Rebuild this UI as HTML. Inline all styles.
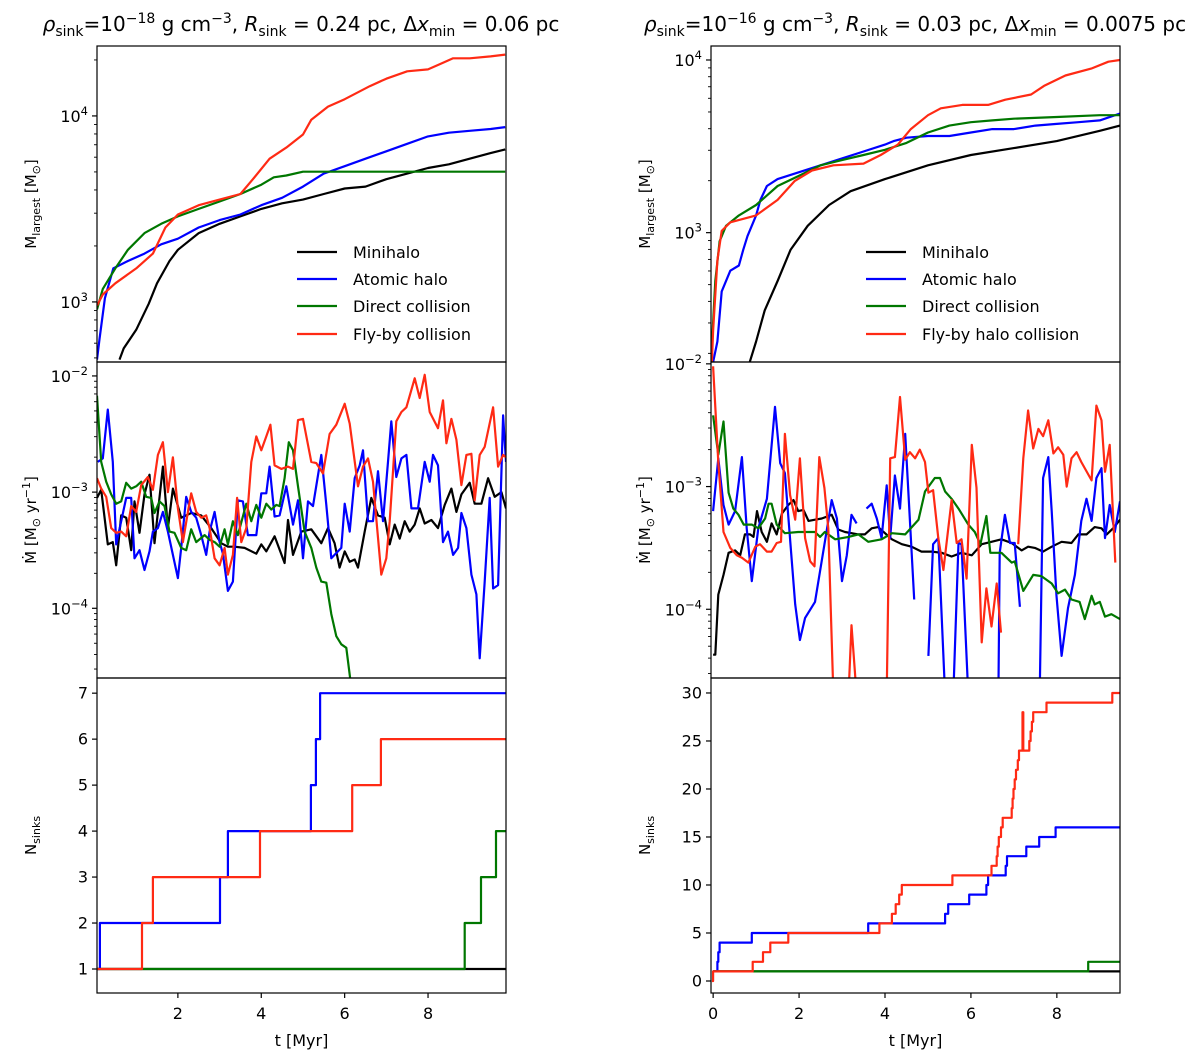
<!DOCTYPE html>
<html><head><meta charset="utf-8">
<style>
html,body{margin:0;padding:0;background:#fff;}
svg{display:block;font-family:"DejaVu Sans","Liberation Sans",sans-serif;}
</style></head>
<body>
<svg id="fig" xmlns="http://www.w3.org/2000/svg" width="1200" height="1062" viewBox="0 0 1200 1062"></svg>
<script>
// ---------------- DATA ----------------
const tMassBlackL=[0.6,0.7,1.0,1.3,1.5,1.8,2.0,2.5,3.0,3.5,4.0,4.5,5.0,5.5,6.0,6.5,7.0,7.5,8.0,8.5,9.0,9.5,9.85];
const logMassBlackL=[2.69,2.75,2.85,2.99,3.10,3.22,3.28,3.37,3.42,3.46,3.50,3.53,3.55,3.58,3.61,3.62,3.66,3.69,3.72,3.74,3.77,3.80,3.82];
const tMassBlueL=[0.06,0.12,0.25,0.45,0.8,1.2,1.6,2.0,2.5,3.0,3.5,4.0,4.5,5.0,5.5,6.0,6.5,7.0,7.5,8.0,8.5,9.0,9.5,9.85];
const logMassBlueL=[2.69,2.80,3.02,3.18,3.22,3.26,3.31,3.34,3.40,3.44,3.47,3.52,3.56,3.62,3.69,3.73,3.77,3.81,3.85,3.89,3.91,3.92,3.93,3.94];
const tMassGreenL=[0.06,0.2,0.5,0.8,1.2,1.6,2.0,2.5,3.0,3.5,4.0,4.3,4.6,5.0,6.0,9.85];
const logMassGreenL=[2.96,3.07,3.18,3.28,3.37,3.42,3.46,3.50,3.54,3.58,3.63,3.67,3.68,3.70,3.70,3.70];
const tMassRedL=[0.06,0.2,0.5,1.0,1.4,1.7,2.0,2.5,3.0,3.5,3.8,4.2,4.6,5.0,5.2,5.6,6.0,6.6,7.0,7.5,8.0,8.3,8.6,9.0,9.5,9.85];
const logMassRedL=[2.98,3.04,3.10,3.18,3.26,3.40,3.47,3.52,3.55,3.58,3.66,3.77,3.83,3.90,3.98,4.05,4.09,4.16,4.20,4.24,4.25,4.28,4.31,4.31,4.32,4.33];

const tMassBlackR=[0.85,1.0,1.2,1.5,1.8,2.2,2.7,3.2,4.0,5.0,6.0,7.0,8.0,9.0,9.47];
const logMassBlackR=[2.25,2.37,2.55,2.72,2.90,3.04,3.16,3.24,3.31,3.39,3.45,3.49,3.53,3.59,3.62];
const tMassBlueR=[0.0,0.1,0.2,0.4,0.6,0.7,0.8,1.0,1.1,1.25,1.5,2.0,2.5,3.0,3.5,4.0,4.2,4.5,5.0,5.5,6.0,6.5,7.0,7.5,8.0,8.5,9.0,9.47];
const logMassBlueR=[2.25,2.37,2.66,2.78,2.81,2.90,2.98,3.10,3.19,3.27,3.31,3.35,3.39,3.43,3.47,3.51,3.53,3.55,3.56,3.56,3.58,3.60,3.60,3.62,3.63,3.64,3.65,3.69];
const tMassGreenR=[-0.05,0.05,0.15,0.3,0.6,1.0,1.5,2.0,2.5,3.0,3.5,4.0,4.5,5.0,5.5,6.0,6.5,7.0,8.0,9.0,9.47];
const logMassGreenR=[2.25,2.72,2.95,3.04,3.10,3.16,3.27,3.33,3.39,3.42,3.45,3.48,3.52,3.58,3.62,3.64,3.65,3.66,3.67,3.68,3.68];
const tMassRedR=[-0.03,0.0,0.1,0.2,0.4,1.0,1.5,1.9,2.3,2.8,3.5,3.9,4.3,4.6,5.0,5.3,5.8,6.4,6.8,7.4,7.7,8.2,8.8,9.2,9.47];
const logMassRedR=[2.25,2.43,2.84,3.01,3.06,3.10,3.19,3.30,3.36,3.39,3.40,3.45,3.51,3.60,3.68,3.72,3.74,3.74,3.77,3.80,3.85,3.91,3.95,3.99,4.00];

const tMdotBlackL=[0.06,0.16,0.32,0.44,0.52,0.64,0.76,0.88,0.96,1.08,1.2,1.32,1.44,1.64,1.76,1.88,2.08,2.32,2.56,2.8,3.04,3.2,3.36,3.6,3.88,4.0,4.12,4.32,4.56,4.64,4.76,4.96,5.2,5.44,5.6,5.76,5.88,6.0,6.12,6.24,6.32,6.48,6.64,6.8,6.96,7.08,7.2,7.32,7.44,7.56,7.68,7.8,7.92,8.08,8.24,8.4,8.56,8.68,8.8,9.0,9.12,9.28,9.44,9.6,9.76,9.87];
const logMdotBlackL=[-3.05,-2.98,-3.45,-3.43,-3.63,-3.20,-3.22,-3.50,-3.08,-3.35,-3.02,-2.85,-3.44,-2.78,-3.31,-2.97,-3.22,-3.18,-3.20,-3.31,-3.44,-3.47,-3.47,-3.48,-3.53,-3.45,-3.51,-3.38,-3.61,-3.24,-3.54,-3.34,-3.32,-3.44,-3.31,-3.44,-3.65,-3.51,-3.60,-3.58,-3.65,-3.34,-3.05,-3.20,-3.22,-3.45,-3.28,-3.40,-3.25,-3.34,-3.28,-3.14,-3.27,-3.24,-3.31,-3.11,-2.97,-3.17,-3.02,-2.92,-3.10,-3.10,-2.88,-3.04,-3.00,-3.14];
const tMdotBlueL=[0.08,0.2,0.32,0.44,0.52,0.64,0.76,0.88,0.96,1.08,1.2,1.32,1.4,1.52,1.64,1.76,1.88,2.0,2.08,2.2,2.32,2.44,2.56,2.68,2.76,2.88,3.0,3.08,3.2,3.32,3.44,3.56,3.68,3.88,4.0,4.12,4.2,4.32,4.44,4.6,4.76,4.88,5.0,5.12,5.24,5.44,5.56,5.68,5.92,6.0,6.12,6.24,6.36,6.44,6.56,6.68,6.8,6.92,7.04,7.12,7.24,7.36,7.48,7.6,7.76,7.92,8.04,8.12,8.24,8.36,8.48,8.6,8.72,8.8,8.92,9.04,9.16,9.24,9.36,9.48,9.56,9.68,9.8,9.87];
const logMdotBlueL=[-2.74,-2.71,-2.29,-2.74,-3.45,-3.25,-3.05,-3.05,-3.57,-3.50,-3.67,-3.51,-3.34,-3.31,-3.17,-3.34,-3.54,-3.74,-3.48,-3.04,-3.17,-3.22,-3.37,-3.54,-3.34,-3.17,-3.43,-3.53,-3.85,-3.77,-3.07,-3.08,-3.37,-3.37,-3.01,-3.01,-2.78,-3.21,-3.20,-2.95,-3.28,-3.07,-3.57,-3.08,-3.12,-2.68,-3.11,-3.57,-3.48,-3.10,-3.34,-2.88,-2.77,-2.64,-3.25,-3.25,-2.82,-3.25,-2.74,-2.39,-2.87,-2.71,-2.68,-3.14,-3.14,-2.74,-2.91,-2.68,-2.77,-3.43,-3.34,-3.54,-3.48,-3.18,-3.31,-3.71,-3.88,-4.43,-3.77,-3.05,-3.83,-3.80,-2.34,-2.74];
const tMdotGreenL=[0.06,0.16,0.28,0.4,0.52,0.64,0.76,0.88,1.0,1.12,1.24,1.36,1.44,1.56,1.68,1.8,1.92,2.08,2.2,2.32,2.44,2.64,2.76,2.88,3.0,3.12,3.2,3.32,3.44,3.64,3.76,3.88,4.0,4.12,4.24,4.36,4.44,4.56,4.66,4.76,4.88,5.04,5.2,5.32,5.44,5.56,5.68,5.8,5.92,6.04,6.16];
const logMdotGreenL=[-2.17,-2.74,-2.91,-3.02,-3.10,-3.08,-2.92,-2.97,-2.95,-2.91,-3.04,-3.05,-3.18,-3.08,-3.12,-3.34,-3.35,-3.48,-3.50,-3.32,-3.43,-3.37,-3.41,-3.43,-3.47,-3.32,-3.45,-3.25,-3.37,-3.10,-3.25,-3.11,-3.22,-3.10,-3.15,-3.11,-3.12,-2.88,-2.57,-2.64,-2.95,-3.34,-3.48,-3.65,-3.77,-3.78,-4.05,-4.24,-4.31,-4.34,-4.68];
const tMdotRedL=[0.06,0.16,0.28,0.4,0.52,0.64,0.76,0.88,1.0,1.12,1.28,1.4,1.52,1.64,1.76,1.88,2.0,2.12,2.24,2.32,2.44,2.56,2.68,2.76,2.88,3.0,3.12,3.2,3.32,3.42,3.52,3.64,3.76,3.88,4.0,4.12,4.22,4.32,4.48,4.64,4.76,4.88,5.0,5.2,5.32,5.48,5.64,5.8,6.0,6.12,6.32,6.44,6.56,6.68,6.88,7.0,7.08,7.24,7.36,7.48,7.68,7.8,7.92,8.04,8.24,8.36,8.44,8.56,8.68,8.8,8.92,9.04,9.12,9.24,9.36,9.56,9.68,9.8,9.87];
const logMdotRedL=[-2.88,-2.97,-3.04,-3.31,-3.35,-3.34,-3.38,-3.12,-3.17,-2.94,-2.87,-2.98,-2.68,-2.57,-3.00,-2.70,-3.14,-3.43,-3.17,-3.01,-3.17,-3.22,-3.20,-3.31,-3.57,-3.63,-3.48,-3.71,-3.54,-3.05,-3.43,-3.31,-2.74,-2.52,-2.64,-2.52,-2.42,-2.77,-2.80,-2.78,-2.80,-2.38,-2.37,-2.74,-2.75,-2.84,-2.50,-2.42,-2.24,-2.41,-2.95,-2.78,-2.71,-2.91,-3.71,-3.57,-3.25,-2.39,-2.31,-2.27,-2.02,-2.19,-1.99,-2.31,-2.45,-2.21,-2.58,-2.37,-2.55,-2.94,-2.68,-2.67,-3.07,-2.68,-2.61,-2.27,-2.78,-2.68,-2.70];

const tMdotBlackR=[0.0,0.05,0.12,0.24,0.36,0.51,0.63,0.74,0.86,0.94,1.02,1.13,1.25,1.36,1.48,1.6,1.75,1.87,1.98,2.1,2.22,2.37,2.53,2.76,2.91,3.07,3.38,3.53,3.69,3.84,4.0,4.16,4.39,4.62,4.85,5.09,5.32,5.55,5.78,6.02,6.25,6.48,6.71,6.95,7.18,7.33,7.49,7.68,7.88,8.11,8.34,8.5,8.69,8.88,9.04,9.16,9.31,9.47];
const logMdotBlackR=[-4.37,-4.37,-3.88,-3.72,-3.54,-3.52,-3.56,-3.39,-3.39,-3.41,-3.20,-3.37,-3.45,-3.30,-3.39,-3.22,-3.15,-3.11,-3.20,-3.19,-3.28,-3.27,-3.26,-3.23,-3.35,-3.37,-3.39,-3.39,-3.34,-3.33,-3.38,-3.43,-3.47,-3.49,-3.53,-3.53,-3.54,-3.57,-3.54,-3.56,-3.47,-3.45,-3.43,-3.46,-3.52,-3.49,-3.50,-3.53,-3.49,-3.45,-3.46,-3.39,-3.39,-3.33,-3.34,-3.39,-3.34,-3.27];
const tMdotGreenR=[0.0,0.12,0.24,0.36,0.47,0.59,0.71,0.9,1.05,1.21,1.29,1.36,1.48,1.67,1.98,2.37,2.49,2.6,2.84,3.15,3.38,3.61,3.92,4.16,4.47,4.78,4.93,5.16,5.28,5.4,5.55,5.71,5.94,6.09,6.22,6.36,6.45,6.71,6.95,7.02,7.22,7.45,7.64,7.88,8.03,8.19,8.34,8.53,8.65,8.81,8.88,9.0,9.12,9.27,9.47];
const logMdotGreenR=[-2.42,-2.74,-2.47,-3.05,-3.18,-3.23,-3.31,-3.31,-3.34,-3.26,-3.14,-3.14,-3.31,-3.38,-3.37,-3.37,-3.41,-3.37,-3.43,-3.41,-3.39,-3.45,-3.43,-3.38,-3.39,-3.27,-3.04,-2.93,-2.93,-3.04,-3.10,-3.18,-3.31,-3.37,-3.47,-3.24,-3.54,-3.54,-3.62,-3.61,-3.85,-3.72,-3.73,-3.79,-3.87,-3.84,-3.92,-3.94,-4.08,-3.89,-3.96,-3.94,-4.06,-4.04,-4.08];
const tMdotBlueR=[0.0,0.12,0.24,0.36,0.51,0.67,0.78,0.9,1.05,1.25,1.44,1.56,1.67,1.91,2.02,2.14,2.37,2.76,2.88,3.0,3.11,3.22,3.34,3.45,3.57,3.69,3.81,3.92,4.04,4.12,4.23,4.35,4.47,4.68,4.85,5.01,5.12,5.24,5.4,5.59,5.71,5.78,5.94,6.3,6.64,6.67,6.79,6.91,7.02,7.14,7.4,7.6,7.68,7.8,7.88,7.99,8.11,8.26,8.42,8.57,8.69,8.81,8.92,9.04,9.12,9.23,9.35,9.47];
const logMdotBlueR=[-3.20,-2.77,-3.15,-3.31,-3.20,-2.76,-3.34,-3.77,-3.34,-3.10,-2.35,-2.81,-2.89,-3.96,-4.25,-4.07,-3.94,-3.11,-3.26,-3.77,-3.56,-3.23,-3.30,null,-3.18,-3.14,-3.26,-3.42,-2.99,-3.42,-2.91,-3.18,-2.57,-3.92,null,-4.38,-3.47,-3.42,-4.7,-4.7,-3.46,-3.47,-4.7,null,-4.7,-3.54,-3.23,-3.46,-3.46,-3.98,null,-4.7,-2.93,-2.76,-3.20,-3.88,-4.38,-3.99,-3.72,-3.28,-3.10,-3.28,-2.93,-2.85,-3.42,-3.15,-3.37,-3.12];
const tMdotRedR=[0.0,0.12,0.24,0.4,0.55,0.67,0.82,0.98,1.09,1.25,1.36,1.48,1.58,1.67,1.79,1.91,2.02,2.14,2.26,2.36,2.47,2.59,2.68,2.8,3.0,3.15,3.22,3.34,3.6,4.04,4.12,4.23,4.35,4.47,4.58,4.7,4.81,4.93,5.01,5.12,5.24,5.36,5.55,5.67,5.78,5.9,6.02,6.13,6.25,6.36,6.48,6.6,6.7,6.9,7.1,7.22,7.33,7.45,7.57,7.68,7.8,7.92,8.03,8.15,8.23,8.34,8.46,8.57,8.81,8.92,9.04,9.12,9.23,9.36];
const logMdotRedR=[-2.02,-2.80,-3.37,-3.50,-3.56,-3.58,-3.62,-3.49,-3.47,-3.53,-3.53,-3.46,-3.45,-2.57,-3.07,-3.27,-2.77,-3.42,-3.61,-3.65,-2.76,-3.01,-3.34,-4.7,null,-4.7,-4.13,-4.7,null,-4.7,-2.77,-2.76,-2.27,-2.78,-2.72,-2.77,-2.70,-2.80,-3.05,-3.03,-3.42,-3.68,-3.11,-3.46,-3.43,-3.75,-2.66,-3.01,-4.27,-3.83,-4.14,-3.79,-4.19,null,-3.47,-2.77,-2.38,-2.69,-2.53,-2.59,-2.46,-2.73,-2.68,-2.74,-3.00,-2.77,-2.72,-2.80,-2.95,-2.34,-2.46,-2.88,-2.66,-3.62];

const tNBlackL=[0.06]; const nBlackL=[1];
const tNBlueL=[0.06,0.13,3.01,3.2,5.19,5.31,5.41]; const nBlueL=[1,2,3,4,5,6,7];
const tNGreenL=[0.06,8.88,9.27,9.63]; const nGreenL=[1,2,3,4];
const tNRedL=[0.06,1.14,1.4,3.97,6.18,6.87]; const nRedL=[1,2,3,4,5,6];

const tNBlackR=[0.0]; const nBlackR=[1];
const tNBlueR=[0.0,0.10,0.12,0.15,0.90,3.61,5.40,5.47,5.96,6.36,6.40,6.81,6.84,7.29,7.59,7.97]; const nBlueR=[1,2,3,4,5,6,7,8,9,10,11,12,13,14,15,16];
const tNGreenR=[0.0,8.73]; const nGreenR=[1,2];
const tNRedR=[-0.03,0.0,0.92,1.16,1.33,1.75,3.87,4.16,4.25,4.33,4.39,5.57,6.48,6.60,6.62,6.65,6.70,6.74,6.95,6.97,6.99,7.02,7.05,7.09,7.12,7.20,7.22,7.36,7.39,7.42,7.45,7.76,9.29];
const nRedR=[0,1,2,3,4,5,6,7,8,9,10,11,12,13,14,15,16,17,18,19,20,21,22,23,24,28,24,25,26,27,28,29,30];

const xTicksL=[2,4,6,8]; const xTicksR=[0,2,4,6,8];
const nTicksL=[1,2,3,4,5,6,7]; const nTicksR=[0,5,10,15,20,25,30];
const legendLabelsL=["Minihalo","Atomic halo","Direct collision","Fly-by collision"];
const legendLabelsR=["Minihalo","Atomic halo","Direct collision","Fly-by halo collision"];

// ---------------- DRAWING ----------------
const NS="http://www.w3.org/2000/svg";
const svg=document.getElementById('fig');
const COLORS={black:"#000000",blue:"#0000ff",green:"#007700",red:"#ff2a14"};
function el(tag,parent){const e=document.createElementNS(NS,tag);(parent||svg).appendChild(e);return e;}

const cols={
  L:{x0:97,x1:506,tmin:0.06,tmax:9.87},
  R:{x0:711,x1:1120,tmin:-0.05,tmax:9.47}
};
const rows={
  top:{y0:46,y1:362},
  mid:{y0:362,y1:678},
  bot:{y0:678,y1:993}
};
const yr={
  L:{top:[2.677,4.376],mid:[-4.6,-1.88],bot:[0.478,7.33]},
  R:{top:[2.251,4.081],mid:[-4.56,-1.985],bot:[-1.25,31.56]}
};
function sx(c,t){const C=cols[c];return C.x0+(t-C.tmin)/(C.tmax-C.tmin)*(C.x1-C.x0);}
function sy(c,r,v){const R=rows[r];const [a,b]=yr[c][r];return R.y1-(v-a)/(b-a)*(R.y1-R.y0);}

const defs=el('defs');
for(const c of ['L','R'])for(const r of ['top','mid','bot']){
  const cp=el('clipPath',defs);cp.setAttribute('id','clip'+c+r);
  const rc=el('rect',cp);rc.setAttribute('x',cols[c].x0);rc.setAttribute('y',rows[r].y0);
  rc.setAttribute('width',cols[c].x1-cols[c].x0);rc.setAttribute('height',rows[r].y1-rows[r].y0);
}

function linePath(c,r,ts,vs){
  let d="",pen=false;
  for(let i=0;i<ts.length;i++){
    if(vs[i]===null){pen=false;continue;}
    d+=(pen?"L":"M")+sx(c,ts[i]).toFixed(1)+","+sy(c,r,vs[i]).toFixed(1);
    pen=true;
  }
  return d;
}
function stepPath(c,r,ts,ns){
  let d="M"+sx(c,ts[0]).toFixed(1)+","+sy(c,r,ns[0]).toFixed(1);
  for(let i=1;i<ts.length;i++){
    d+="H"+sx(c,ts[i]).toFixed(1)+"V"+sy(c,r,ns[i]).toFixed(1);
  }
  d+="H"+sx(c,cols[c].tmax).toFixed(1);
  return d;
}
function drawSeries(c,r,d,color,name){
  const p=el('path');
  p.setAttribute('d',d);p.setAttribute('fill','none');p.setAttribute('stroke',COLORS[color]);
  p.setAttribute('stroke-width','2.2');p.setAttribute('stroke-linejoin','round');
  p.setAttribute('clip-path','url(#clip'+c+r+')');
  
  
}

drawSeries('L','top',linePath('L','top',tMassBlackL,logMassBlackL),'black','mass-minihalo-left');
drawSeries('L','top',linePath('L','top',tMassBlueL,logMassBlueL),'blue','mass-atomic-left');
drawSeries('L','top',linePath('L','top',tMassGreenL,logMassGreenL),'green','mass-direct-left');
drawSeries('L','top',linePath('L','top',tMassRedL,logMassRedL),'red','mass-flyby-left');
drawSeries('R','top',linePath('R','top',tMassBlackR,logMassBlackR),'black','mass-minihalo-right');
drawSeries('R','top',linePath('R','top',tMassBlueR,logMassBlueR),'blue','mass-atomic-right');
drawSeries('R','top',linePath('R','top',tMassGreenR,logMassGreenR),'green','mass-direct-right');
drawSeries('R','top',linePath('R','top',tMassRedR,logMassRedR),'red','mass-flyby-right');

drawSeries('L','mid',linePath('L','mid',tMdotBlackL,logMdotBlackL),'black','mdot-minihalo-left');
drawSeries('L','mid',linePath('L','mid',tMdotBlueL,logMdotBlueL),'blue','mdot-atomic-left');
drawSeries('L','mid',linePath('L','mid',tMdotGreenL,logMdotGreenL),'green','mdot-direct-left');
drawSeries('L','mid',linePath('L','mid',tMdotRedL,logMdotRedL),'red','mdot-flyby-left');
drawSeries('R','mid',linePath('R','mid',tMdotBlackR,logMdotBlackR),'black','mdot-minihalo-right');
drawSeries('R','mid',linePath('R','mid',tMdotBlueR,logMdotBlueR),'blue','mdot-atomic-right');
drawSeries('R','mid',linePath('R','mid',tMdotGreenR,logMdotGreenR),'green','mdot-direct-right');
drawSeries('R','mid',linePath('R','mid',tMdotRedR,logMdotRedR),'red','mdot-flyby-right');

drawSeries('L','bot',stepPath('L','bot',tNBlackL,nBlackL),'black','nsinks-minihalo-left');
drawSeries('L','bot',stepPath('L','bot',tNBlueL,nBlueL),'blue','nsinks-atomic-left');
drawSeries('L','bot',stepPath('L','bot',tNGreenL,nGreenL),'green','nsinks-direct-left');
drawSeries('L','bot',stepPath('L','bot',tNRedL,nRedL),'red','nsinks-flyby-left');
drawSeries('R','bot',stepPath('R','bot',tNBlackR,nBlackR),'black','nsinks-minihalo-right');
drawSeries('R','bot',stepPath('R','bot',tNBlueR,nBlueR),'blue','nsinks-atomic-right');
drawSeries('R','bot',stepPath('R','bot',tNGreenR,nGreenR),'green','nsinks-direct-right');
drawSeries('R','bot',stepPath('R','bot',tNRedR,nRedR),'red','nsinks-flyby-right');

for(const c of ['L','R'])for(const r of ['top','mid','bot']){
  const f=el('rect');
  f.setAttribute('x',cols[c].x0);f.setAttribute('y',rows[r].y0);
  f.setAttribute('width',cols[c].x1-cols[c].x0);f.setAttribute('height',rows[r].y1-rows[r].y0);
  f.setAttribute('fill','none');f.setAttribute('stroke','#000');f.setAttribute('stroke-width','1.2');
  
  
}

function tickLine(x1,y1,x2,y2,w){
  const l=el('line');l.setAttribute('x1',x1);l.setAttribute('y1',y1);l.setAttribute('x2',x2);l.setAttribute('y2',y2);
  l.setAttribute('stroke','#000');l.setAttribute('stroke-width',w||1);
  
  
}
function txt(x,y,s,anchor,size){
  const t=el('text');t.setAttribute('x',x);t.setAttribute('y',y);t.setAttribute('text-anchor',anchor||'middle');
  t.setAttribute('font-size',size||15);t.textContent=s;return t;
}
function powLabel(x,y,exp){
  const t=el('text');t.setAttribute('x',x);t.setAttribute('y',y);t.setAttribute('text-anchor','end');t.setAttribute('font-size',16);
  t.appendChild(document.createTextNode('10'));
  const s=el('tspan',t);s.setAttribute('dy','-7');s.setAttribute('font-size',11.5);s.textContent=exp;
  
  
}
function logTicks(c,r,lo,hi){
  const x0=cols[c].x0;
  for(let d=Math.floor(lo);d<=Math.ceil(hi);d++){
    for(let m=1;m<10;m++){
      const v=d+Math.log10(m);
      if(v<lo-1e-6||v>hi+1e-6)continue;
      const y=sy(c,r,v);
      if(m===1){tickLine(x0-5,y,x0,y,1.2);
        powLabel(x0-9,y+6,(d<0?'\u2212'+(-d):''+d));}
      else tickLine(x0-3,y,x0,y,0.9);
    }
  }
}
logTicks('L','top',yr.L.top[0],yr.L.top[1]);
logTicks('R','top',yr.R.top[0],yr.R.top[1]);
logTicks('L','mid',yr.L.mid[0],yr.L.mid[1]);
logTicks('R','mid',yr.R.mid[0],yr.R.mid[1]);

for(const v of nTicksL){const y=sy('L','bot',v);tickLine(cols.L.x0-5,y,cols.L.x0,y,1.2);
  const t=txt(cols.L.x0-9,y+5.5,String(v),'end',16);
  
  }
for(const v of nTicksR){const y=sy('R','bot',v);tickLine(cols.R.x0-5,y,cols.R.x0,y,1.2);
  const t=txt(cols.R.x0-9,y+5.5,String(v),'end',16);
  
  }
for(const v of xTicksL){const x=sx('L',v);tickLine(x,993,x,998,1.2);
  const t=txt(x,1019,String(v),'middle',16);
  
  }
for(const v of xTicksR){const x=sx('R',v);tickLine(x,993,x,998,1.2);
  const t=txt(x,1019,String(v),'middle',16);
  
  }
for(const c of ['L','R']){
  const t=txt((cols[c].x0+cols[c].x1)/2,1046,'t [Myr]','middle',16);
  
  
}

function yTitle(x,y,parts,name){
  const t=el('text');t.setAttribute('transform','translate('+x+','+y+') rotate(-90)');
  t.setAttribute('text-anchor','middle');t.setAttribute('font-size',15);
  for(const p of parts){const s=el('tspan',t);s.textContent=p[0];
    if(p[1]){s.setAttribute('font-size',p[1]);} if(p[2]){s.setAttribute('dy',p[2]);} }
  
  
}
for(const [c,x] of [['L',36],['R',650]]){
  yTitle(x,(rows.top.y0+rows.top.y1)/2,[['M'],['largest',11,4],[' [M',null,-4],['\u2299',11,4],[']',null,-4]],'y-axis-title-mass');
  yTitle(x,(rows.mid.y0+rows.mid.y1)/2,[['M\u0307 [M'],['\u2299',11,4],[' yr',null,-4],['\u22121',11,-6],[']',null,6]],'y-axis-title-mdot');
  yTitle(x,(rows.bot.y0+rows.bot.y1)/2,[['N'],['sinks',11,4]],'y-axis-title-nsinks');
}

function title(cx,parts,name){
  const t=el('text');t.setAttribute('x',cx);t.setAttribute('y',31);t.setAttribute('text-anchor','middle');t.setAttribute('font-size',20);
  for(const p of parts){const s=el('tspan',t);s.textContent=p[0];
    if(p[1])s.setAttribute('font-size',p[1]); if(p[2])s.setAttribute('dy',p[2]); if(p[3])s.setAttribute('font-style','italic');}
  
  
}
title(301,[['\u03C1',null,null,1],['sink',14,5],['=10',null,-5],['\u221218',14,-8],[' g cm',null,8],['\u22123',14,-8],[', ',null,8],['R',null,null,1],['sink',14,5],[' = 0.24 pc, \u0394',null,-5],['x',null,null,1],['min',14,5],[' = 0.06 pc',null,-5]],'left-panel-title');
title(915,[['\u03C1',null,null,1],['sink',14,5],['=10',null,-5],['\u221216',14,-8],[' g cm',null,8],['\u22123',14,-8],[', ',null,8],['R',null,null,1],['sink',14,5],[' = 0.03 pc, \u0394',null,-5],['x',null,null,1],['min',14,5],[' = 0.0075 pc',null,-5]],'right-panel-title');

const legColors=['black','blue','green','red'];
function legend(lx,labels,side){
  const ys=[252,279,306,334];
  for(let i=0;i<4;i++){
    const g=el('g');
    
    
    const l=el('line',g);l.setAttribute('x1',lx);l.setAttribute('x2',lx+40);l.setAttribute('y1',ys[i]);l.setAttribute('y2',ys[i]);
    l.setAttribute('stroke',COLORS[legColors[i]]);l.setAttribute('stroke-width',2.2);
    const t=el('text',g);t.setAttribute('x',lx+56);t.setAttribute('y',ys[i]+6);t.setAttribute('font-size',16);t.textContent=labels[i];
  }
}
legend(297,legendLabelsL,'left');
legend(866,legendLabelsR,'right');
</script>
</body></html>
